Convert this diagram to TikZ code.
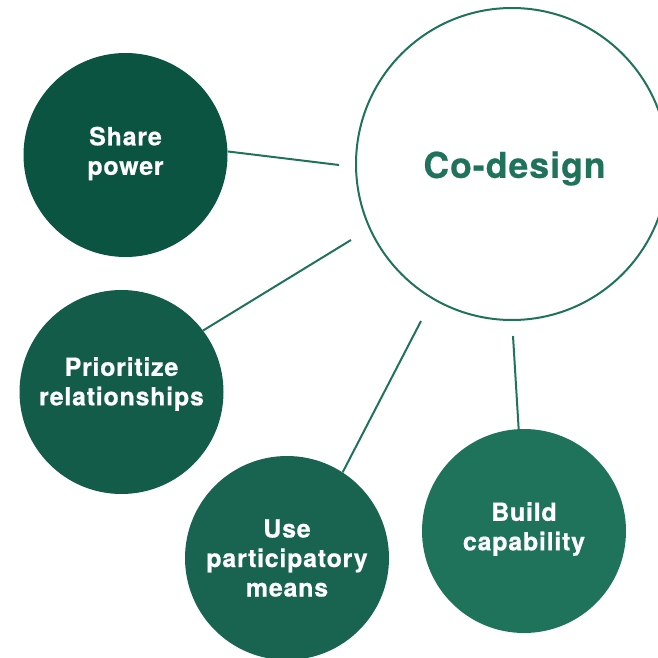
\documentclass[tikz,border=0pt]{standalone}
\usepackage{fontspec}
\setmainfont{TeX Gyre Heros}[LetterSpace=3,BoldFeatures={FakeBold=0.6}]
\definecolor{c1}{HTML}{0B5442}
\definecolor{c2}{HTML}{135C4A}
\definecolor{c3}{HTML}{186450}
\definecolor{c4}{HTML}{20735B}
\tikzset{
  x=1pt,y=-1pt,
  disc/.style={circle,inner sep=0pt,minimum size=204pt},
  caption/.style={align=center,text=white,inner sep=0pt,font=\fontsize{25}{29.5}\selectfont\bfseries},
  link/.style={draw=c4,line width=2pt}
}
\begin{document}
\begin{tikzpicture}
\useasboundingbox (0,0) rectangle (658,658);
\clip (0,0) rectangle (658,658);
\node[disc,fill=c1,label={[caption,yshift=1.5pt]center:{Share\\power}}] (share) at (125.5,155) {};
\node[disc,fill=c2,label={[caption,yshift=8pt]center:{Prioritize\\relationships}}] (prior) at (121.5,392) {};
\node[disc,fill=c3,label={[caption]center:{Use\\participatory\\means}}] (use) at (287,558) {};
\node[disc,fill=c4,label={[caption,yshift=2pt]center:{Build\\capability}}] (build) at (524,531) {};
\node[circle,draw=c4,line width=2pt,fill=white,minimum size=312pt,inner sep=0pt,label={[caption,text=c4,xshift=2.5pt,yshift=-4.5pt,font=\fontsize{35.5}{40}\selectfont\bfseries]center:{Co-design}}] (code) at (512,164) {};
\coordinate (a) at (339,165);
\coordinate (b) at (351,240);
\coordinate (c) at (421,321);
\coordinate (d) at (513,336);
\draw[link] (share.2) -- (a);
\draw[link] (prior.37) -- (b);
\draw[link] (use.57) -- (c);
\draw[link] (build.93) -- (d);
\end{tikzpicture}
\end{document}
